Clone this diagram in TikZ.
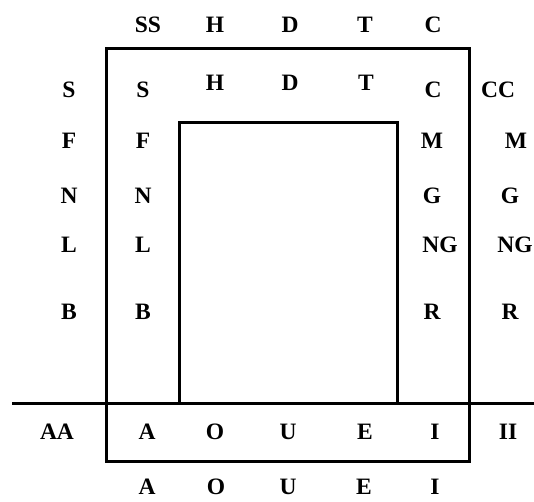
\documentclass[tikz,border=0pt]{standalone}
\usepackage{fontspec}
\setmainfont{Liberation Serif}
\begin{document}
\begin{tikzpicture}[x=1pt,y=-1pt,
  lbl/.style={font=\fontsize{23.5}{28}\selectfont\bfseries, inner sep=0pt},
  frame/.style={line width=3pt, line join=miter}]
\useasboundingbox (0,0) rectangle (534,501);
% frame corners
\coordinate (o1) at (106,48);
\coordinate (o2) at (469,461);
\coordinate (i1) at (179,403);
\coordinate (i2) at (179,122);
\coordinate (i3) at (397,122);
\coordinate (i4) at (397,403);
\coordinate (h1) at (12,403);
\coordinate (h2) at (534,403);
\draw[frame] (o1) rectangle (o2);
\draw[frame] (i1) -- (i2) -- (i3) -- (i4);
\draw[frame] (h1) -- (h2);
% top row
\node[lbl] (tss) at (148,25) {SS};
\node[lbl] (th) at (215,25) {H};
\node[lbl] (td) at (290,25) {D};
\node[lbl] (tt) at (365,25) {T};
\node[lbl] (tc) at (433,25) {C};
% second row
\node[lbl] (s1) at (69,90) {S};
\node[lbl] (s2) at (143,90) {S};
\node[lbl] (h2n) at (215,83) {H};
\node[lbl] (d2) at (290,83) {D};
\node[lbl] (t2) at (366,83) {T};
\node[lbl] (c2) at (433,90) {C};
\node[lbl] (cc) at (498,90) {CC};
% F row
\node[lbl] (f1) at (69,141) {F};
\node[lbl] (f2) at (143,141) {F};
\node[lbl] (m1) at (432,141) {M};
\node[lbl] (m2) at (516,141) {M};
% N row
\node[lbl] (n1) at (69,196) {N};
\node[lbl] (n2) at (143,196) {N};
\node[lbl] (g1) at (432,196) {G};
\node[lbl] (g2) at (510,196) {G};
% L row
\node[lbl] (l1) at (69,245) {L};
\node[lbl] (l2) at (143,245) {L};
\node[lbl] (ng1) at (440,245) {NG};
\node[lbl] (ng2) at (515,245) {NG};
% B row
\node[lbl] (b1) at (69,312) {B};
\node[lbl] (b2) at (143,312) {B};
\node[lbl] (r1) at (432,312) {R};
\node[lbl] (r2) at (510,312) {R};
% vowel row
\node[lbl] (aa) at (57,432) {AA};
\node[lbl] (a1) at (147,432) {A};
\node[lbl] (o1n) at (215,432) {O};
\node[lbl] (u1) at (288,432) {U};
\node[lbl] (e1) at (365,432) {E};
\node[lbl] (ii1) at (435,432) {I};
\node[lbl] (ii) at (508,432) {II};
% bottom row
\node[lbl] (a2) at (147,487) {A};
\node[lbl] (o2n) at (216,487) {O};
\node[lbl] (u2) at (288,487) {U};
\node[lbl] (e2) at (364,487) {E};
\node[lbl] (ii2) at (435,487) {I};
\end{tikzpicture}
\end{document}
